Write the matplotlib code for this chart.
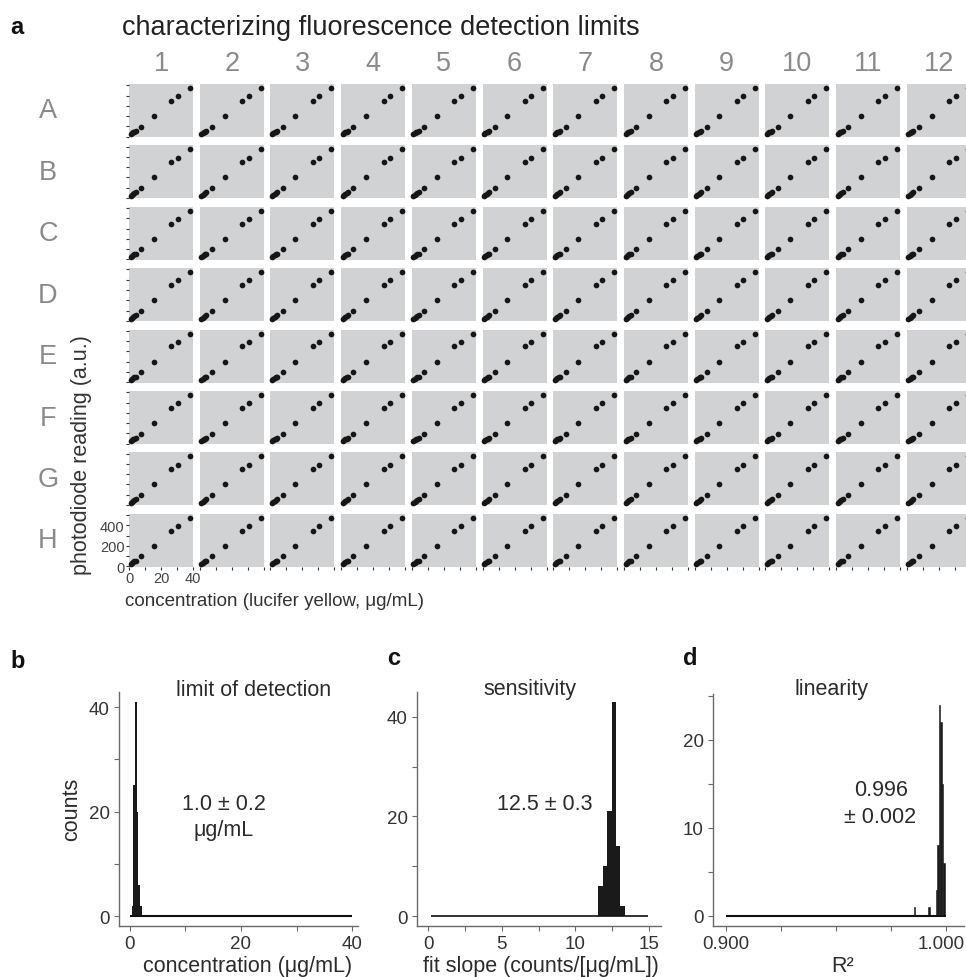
import numpy as np
import matplotlib
matplotlib.use("Agg")
import matplotlib.pyplot as plt
import matplotlib.transforms as mtransforms
from matplotlib.ticker import FixedLocator

plt.rcParams['font.family'] = ['Liberation Sans', 'DejaVu Sans']

# ---------------- data ----------------
row_labels = ["A", "B", "C", "D", "E", "F", "G", "H"]
col_labels = [str(i) for i in range(1, 13)]

# concentration series (lucifer yellow, ug/mL) and photodiode response (a.u.)
conc = [1.0, 1.8, 2.6, 3.4, 4.2, 7.7, 15.5, 26.5, 30.5, 38.0]
resp = [22, 31, 40, 48, 55, 97, 200, 348, 394, 474]

# panel b: limit of detection histogram (ug/mL)
lod_bin_left = [0.3, 0.6, 0.9, 1.2, 1.5, 1.8]
lod_bin_width = 0.3
lod_counts = [2, 25, 41, 20, 6, 2]
lod_range = [0, 40]

# panel c: sensitivity histogram (fit slope)
sens_bin_left = [11.55, 11.85, 12.15, 12.45, 12.75, 13.05]
sens_bin_width = 0.3
sens_counts = [6, 10, 21, 43, 14, 2]
sens_range = [0.2, 14.9]

# panel d: linearity histogram (R^2)
lin_bin_left = [0.98533, 0.99200, 0.99533, 0.99600, 0.99667, 0.99733, 0.99800, 0.99867]
lin_bin_width = 0.000667
lin_counts = [1, 1, 3, 8, 24, 22, 15, 6]
lin_range = [0.9, 1.0]

# ---------------- figure ----------------
W, H = 966, 978
fig = plt.figure(figsize=(W / 100, H / 100), dpi=100)
fig.patch.set_facecolor("white")


def px_axes(left, top, right, bottom):
    return fig.add_axes([left / W, 1 - bottom / H, (right - left) / W, (bottom - top) / H])


def fx(x):
    return x / W


def fy(y):
    return 1 - y / H


label_gray = "#8a8a8a"
text_dark = "#2b2b2b"
panel_gray = "#d1d2d4"
dot_color = "#161616"

# ---------------- panel a: grid of wells ----------------
col_left0, col_pitch, col_w = 129, 70.7, 64
row_top0, row_pitch, row_h = 85, 61.4, 53

for i, rl in enumerate(row_labels):
    for j, cl in enumerate(col_labels):
        l = col_left0 + col_pitch * j
        t = row_top0 + row_pitch * i
        ax = px_axes(l, t, l + col_w, t + row_h)
        ax.set_facecolor(panel_gray)
        ax.plot(conc, resp, 'o', ms=4.1, color=dot_color, mec='none', clip_on=False)
        ax.set_xlim(0, 40)
        ax.set_ylim(-4, 512)
        for s in ax.spines.values():
            s.set_visible(False)
        ax.xaxis.set_major_locator(FixedLocator([0, 20, 40]))
        ax.xaxis.set_minor_locator(FixedLocator([10, 30]))
        ax.yaxis.set_major_locator(FixedLocator([0, 200, 400]))
        ax.yaxis.set_minor_locator(FixedLocator([100, 300, 500]))
        ax.tick_params(which='both', direction='out', length=2.2, width=0.8,
                       color='#333333', labelsize=10.5, labelcolor='#444444', pad=1)
        show_left = (j == 0)
        show_bottom = (i == len(row_labels) - 1)
        ax.tick_params(which='both', left=show_left, bottom=show_bottom)
        if not (i == len(row_labels) - 1 and j == 0):
            ax.set_xticklabels([])
            ax.set_yticklabels([])
    # row label
    fig.text(fx(48), fy(row_top0 + row_pitch * i + row_h / 2), rl, ha='center', va='center',
             fontsize=19.5, color=label_gray)

for j, cl in enumerate(col_labels):
    fig.text(fx(col_left0 + col_pitch * j + col_w / 2), fy(64), cl, ha='center', va='center',
             fontsize=19.5, color=label_gray)

fig.text(fx(10), fy(27), "a", fontsize=17, fontweight='bold', ha='left', va='center', color='#111111')
fig.text(fx(122), fy(28), "characterizing fluorescence detection limits", fontsize=19.5,
         ha='left', va='center', color='#222222')
fig.text(fx(81), fy(455), "photodiode reading (a.u.)", rotation=90, fontsize=15.5,
         ha='center', va='center', color='#333333')
fig.text(fx(125), fy(601), "concentration (lucifer yellow, \u03bcg/mL)", fontsize=13.5,
         ha='left', va='center', color='#333333')


# ---------------- histograms ----------------
def style_hist(ax):
    for side in ['top', 'right']:
        ax.spines[side].set_visible(False)
    for side in ['left', 'bottom']:
        ax.spines[side].set_color('#6a6a6a')
        ax.spines[side].set_linewidth(1.0)
    ax.tick_params(which='both', direction='out', color='#6a6a6a', width=0.8,
                   labelsize=13.5, labelcolor='#333333', pad=3)
    ax.tick_params(which='major', length=3.5)
    ax.tick_params(which='minor', length=3.5)
    ax.set_facecolor('white')


hist_color = "#1a1a1a"

# b
axb = px_axes(119, 693, 358, 927)
axb.bar(lod_bin_left, lod_counts, width=lod_bin_width, align='edge', color=hist_color, lw=0)
axb.hlines(0, lod_range[0], lod_range[1], color='#111111', lw=1.5)
axb.set_xlim(-1.98, 41.08)
axb.set_ylim(-1.91, 42.9)
axb.xaxis.set_major_locator(FixedLocator([0, 20, 40]))
axb.xaxis.set_minor_locator(FixedLocator([10, 30]))
axb.yaxis.set_major_locator(FixedLocator([0, 20, 40]))
axb.yaxis.set_minor_locator(FixedLocator([10, 30]))
style_hist(axb)

# c
axc = px_axes(417, 693, 661, 927)
axc.bar(sens_bin_left, sens_counts, width=sens_bin_width, align='edge', color=hist_color, lw=0)
axc.hlines(0, sens_range[0], sens_range[1], color='#111111', lw=1.2)
axc.set_xlim(-0.75, 15.8)
axc.set_ylim(-2.0, 45.0)
axc.xaxis.set_major_locator(FixedLocator([0, 5, 10, 15]))
axc.xaxis.set_minor_locator(FixedLocator([2.5, 7.5, 12.5]))
axc.yaxis.set_major_locator(FixedLocator([0, 20, 40]))
axc.yaxis.set_minor_locator(FixedLocator([10, 30]))
style_hist(axc)

# d
axd = px_axes(713, 695, 964, 927)
axd.bar(lin_bin_left, lin_counts, width=lin_bin_width, align='edge', color=hist_color,
        edgecolor=hist_color, lw=0.4)
axd.hlines(0, lin_range[0], lin_range[1], color='#111111', lw=1.5)
axd.set_xlim(0.8941, 1.0082)
axd.set_ylim(-1.14, 25.2)
axd.xaxis.set_major_locator(FixedLocator([0.9, 1.0]))
axd.xaxis.set_minor_locator(FixedLocator([0.925, 0.95, 0.975]))
axd.set_xticklabels(["0.900", "1.000"])
axd.yaxis.set_major_locator(FixedLocator([0, 10, 20]))
axd.yaxis.set_minor_locator(FixedLocator([5, 15, 25]))
style_hist(axd)
# nudge the last tick label left so it stays inside the figure
shift = mtransforms.ScaledTranslation(-5 / 100, 0, fig.dpi_scale_trans)
lbl = axd.get_xticklabels()[-1]
lbl.set_transform(lbl.get_transform() + shift)

hist_fs = 15.5
# panel letters
fig.text(fx(18), fy(661), "b", fontsize=17, fontweight='bold', ha='center', va='center', color='#111111')
fig.text(fx(394), fy(659), "c", fontsize=17, fontweight='bold', ha='center', va='center', color='#111111')
fig.text(fx(690), fy(659), "d", fontsize=17, fontweight='bold', ha='center', va='center', color='#111111')

# titles
fig.text(fx(254), fy(690), "limit of detection", fontsize=hist_fs, ha='center', va='center', color=text_dark)
fig.text(fx(530), fy(690), "sensitivity", fontsize=hist_fs, ha='center', va='center', color=text_dark)
fig.text(fx(832), fy(690), "linearity", fontsize=hist_fs, ha='center', va='center', color=text_dark)

# annotations
fig.text(fx(224), fy(804), "1.0 \u00b1 0.2", fontsize=hist_fs, ha='center', va='center', color=text_dark)
fig.text(fx(224), fy(831), "\u03bcg/mL", fontsize=hist_fs, ha='center', va='center', color=text_dark)
fig.text(fx(545), fy(804), "12.5 \u00b1 0.3", fontsize=hist_fs, ha='center', va='center', color=text_dark)
fig.text(fx(881), fy(790), "0.996", fontsize=hist_fs, ha='center', va='center', color=text_dark)
fig.text(fx(880), fy(818), "\u00b1 0.002", fontsize=hist_fs, ha='center', va='center', color=text_dark)

# axis labels
fig.text(fx(72), fy(809), "counts", rotation=90, fontsize=hist_fs, ha='center', va='center', color=text_dark)
fig.text(fx(248), fy(967), "concentration (\u03bcg/mL)", fontsize=hist_fs, ha='center', va='center', color=text_dark)
fig.text(fx(541), fy(967), "fit slope (counts/[\u03bcg/mL])", fontsize=hist_fs, ha='center', va='center', color=text_dark)
fig.text(fx(843), fy(967), "R\u00b2", fontsize=hist_fs, ha='center', va='center', color=text_dark)

fig.savefig("out.png", dpi=100)
